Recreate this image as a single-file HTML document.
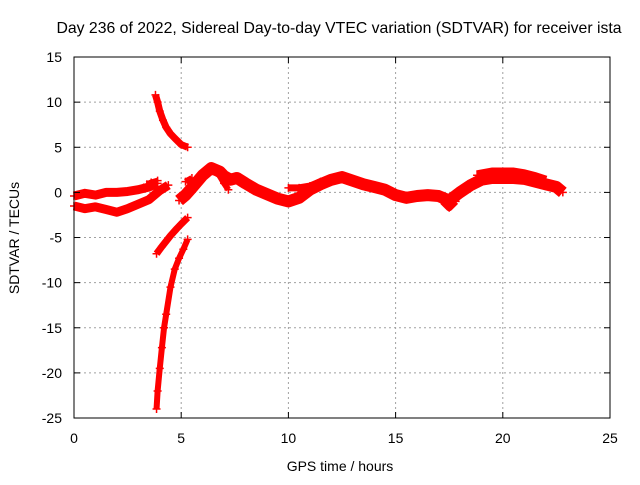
<!DOCTYPE html>
<html><head><meta charset="utf-8"><style>
body{margin:0;background:#fff}
svg text{font-family:"Liberation Sans",sans-serif;font-size:14px;fill:#000}
</style></head><body>
<svg id="chart" width="640" height="480" viewBox="0 0 640 480" xmlns="http://www.w3.org/2000/svg">
<text x="339" y="33" text-anchor="middle" style="font-size:15.8px">Day 236 of 2022, Sidereal Day-to-day VTEC variation (SDTVAR) for receiver ista</text>
<g id="grid"></g>
<g id="series"></g>
<rect x="74" y="57" width="536" height="361" fill="none" stroke="#000" stroke-width="1"/>
<g id="ticks"></g>
<text x="340" y="471" text-anchor="middle">GPS time / hours</text>
<text transform="translate(19,238) rotate(-90)" text-anchor="middle">SDTVAR / TECUs</text>
</svg>
<script>
const xTicks=[0,5,10,15,20,25];
const yTicks=[15,10,5,0,-5,-10,-15,-20,-25];
const segAh=[0,0.5,1,1.5,2,2.5,3,3.5,3.9];
const segAv=[-0.4,-0.1,-0.3,0,0,0.1,0.3,0.6,1.0];
const segBh=[0,0.5,1,1.5,2,2.5,3,3.5,4.0,4.4];
const segBv=[-1.5,-1.8,-1.6,-1.9,-2.2,-1.8,-1.3,-0.8,0.2,0.8];
const segCh=[3.4,3.6,3.9];
const segCv=[0.9,1.1,1.3];
const segDh=[3.8,3.9,4.0,4.15,4.3,4.5,4.7,5.0,5.3];
const segDv=[10.8,10.0,9.0,8.0,7.2,6.5,6.0,5.3,5.0];
const segEh=[3.85,4.1,4.5,4.8,5.0,5.3];
const segEv=[-6.8,-6.0,-4.8,-4.0,-3.5,-2.8];
const segFh=[3.85,3.9,4.0,4.1,4.2,4.3,4.5,4.7,4.9,5.1,5.3];
const segFv=[-24,-22,-19.5,-17.2,-15,-13.5,-10.5,-8.5,-7.3,-6.3,-5.2];
const segGh=[4.9,5.2,5.5,6.0,6.4,6.8,7.0,7.3,7.6,8.0,8.5,9.0,9.5,10.0,10.5,11.0,11.5,12.0,12.5,13.0,13.5,14.0,14.5,15.0,15.5,16.0,16.5,17.0,17.5,18.0,18.5,19.0,19.5,20.0,20.5,21.0,21.5,22.0,22.5,22.8];
const segGv=[-0.9,-0.3,0.5,1.9,2.7,2.3,1.8,1.4,1.6,1.0,0.3,-0.2,-0.7,-1.0,-0.6,0.3,0.9,1.4,1.7,1.3,0.9,0.6,0.3,-0.3,-0.6,-0.4,-0.3,-0.4,-0.9,0.0,0.8,1.4,1.6,1.6,1.6,1.5,1.2,0.9,0.6,0.0];
const segHh=[5.2,5.5];
const segHv=[1.2,1.6];
const segIh=[6.8,7.0,7.2];
const segIv=[1.8,1.0,0.3];
const segJh=[10.0,10.5,11.0,11.5,12.0];
const segJv=[0.5,0.5,0.7,1.2,1.4];
const segKh=[17.2,17.5,17.8];
const segKv=[-1.0,-1.7,-1.0];
const segLh=[18.8,19.5,20.0,20.5,21.0,21.5,22.0];
const segLv=[1.9,2.2,2.2,2.2,2.0,1.7,1.3];
const X=h=>74+h*536/25;
const Y=v=>192.4-v*9.025;
const NS="http://www.w3.org/2000/svg";
const grid=document.getElementById('grid'),ticks=document.getElementById('ticks'),ser=document.getElementById('series');
function mk(t,a,p){const e=document.createElementNS(NS,t);for(const k in a)e.setAttribute(k,a[k]);p.appendChild(e);return e;}
xTicks.forEach(t=>{const x=X(t);
 if(t>0&&t<25){const g=mk('line',{x1:x,y1:57,x2:x,y2:418,stroke:'#a0a0a0','stroke-dasharray':'2,3'},grid);
 
 }
 const a=mk('line',{x1:x,y1:418,x2:x,y2:412,stroke:'#000'},ticks);
 
 
 const b=mk('line',{x1:x,y1:57,x2:x,y2:63,stroke:'#000'},ticks);
 
 
 const l=mk('text',{x:x,y:443,'text-anchor':'middle'},ticks);l.textContent=t;
 
 });
yTicks.forEach(t=>{const y=Y(t);
 if(t<15&&t>-25){const g=mk('line',{x1:74,y1:y,x2:610,y2:y,stroke:'#a0a0a0','stroke-dasharray':'2,3'},grid);
 
 }
 const a=mk('line',{x1:74,y1:y,x2:80,y2:y,stroke:'#000'},ticks);
 
 
 const b=mk('line',{x1:610,y1:y,x2:604,y2:y,stroke:'#000'},ticks);
 
 
 const l=mk('text',{x:62,y:y+5,'text-anchor':'end'},ticks);l.textContent=t;
 
 });
const segs=[[segAh,segAv,9],[segBh,segBv,9],[segCh,segCv,6],[segDh,segDv,7],[segEh,segEv,7],[segFh,segFv,6],[segGh,segGv,12],[segHh,segHv,6],[segIh,segIv,6],[segJh,segJv,7],[segKh,segKv,7],[segLh,segLv,10]];
segs.forEach(([hs,vs,w])=>{
 const pts=hs.map((h,i)=>X(h)+','+Y(vs[i])).join(' ');
 const p=mk('polyline',{points:pts,fill:'none',stroke:'#ff0000','stroke-width':w,'stroke-linejoin':'round','stroke-linecap':'butt'},ser);
 
 
 hs.forEach((h,i)=>{const x=X(h),y=Y(vs[i]);
  const m=mk('path',{d:`M${x-4},${y}H${x+4}M${x},${y-4}V${y+4}`,stroke:'#ff0000','stroke-width':1.5},ser);
  
  });
});
</script>
</body></html>
